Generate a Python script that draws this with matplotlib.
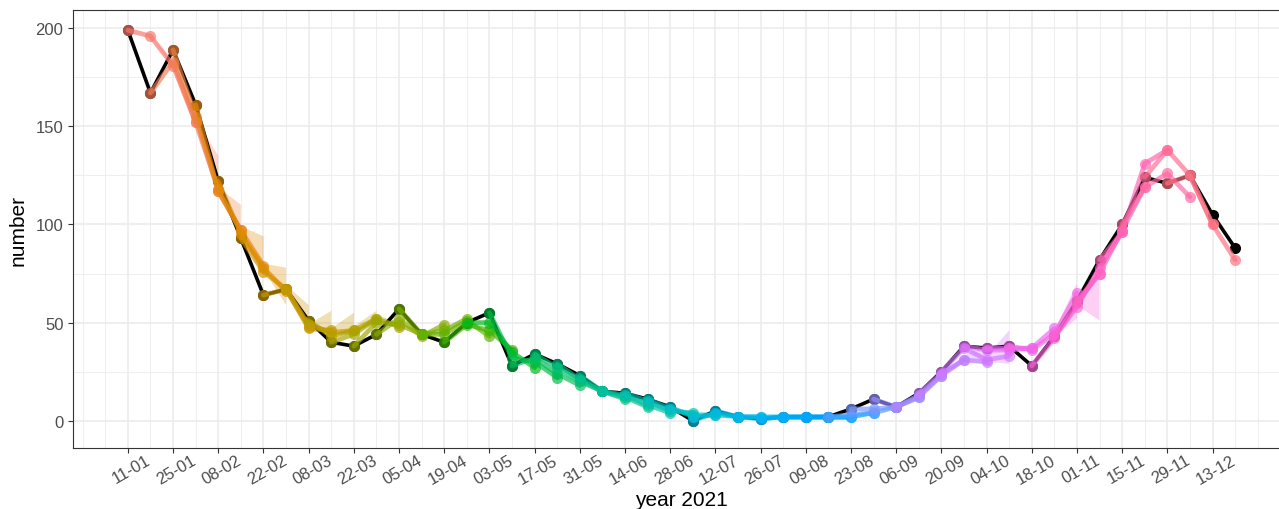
import matplotlib
matplotlib.use("Agg")
import matplotlib.pyplot as plt
import numpy as np

plt.rcParams["font.family"] = ["Liberation Sans", "DejaVu Sans"]

nan = np.nan

# final reported counts per week (11-01 .. 20-12)
final = [199, 167, 189, 161, 122, 93, 64, 67, 51, 40, 38, 44, 57, 44, 40, 50, 55, 28, 34, 29,
         23, 15, 14, 11, 7, 0, 5, 2, 1, 2, 2, 2, 6, 11, 7, 14, 25, 38, 37, 38,
         28, 43, 61, 82, 100, 124, 121, 125, 105, 88]

# nowcast estimates of week j, made j+0 .. j+2 weeks later
# (the oldest point of each nowcast, 3 weeks back, is the final count)
est_lag0 = [nan, nan, nan, 152, 118, 97, 79, 66, 48, 46, 46, 52, 48, 44, 49, 52, 43, 36, 27, 22,
            18, 15, 11, 7, 4, 4, 3, 2, 2, 2, 2, 2, 2, 4, 7, 12, 23, 31, 30, 33,
            37, 47, 65, 75, 96, 119, 138, 114, 100, 82]
est_lag1 = [nan, nan, 181, 152, 117, 97, 78, 67, 47, 45, 46, 52, 49, 43, 46, 51, 46, 35, 30, 24,
            20, 15, 12, 8, 5, 3, 3, 2, 2, 2, 2, 2, 2, 4, 7, 12, 23, 31, 31, 36,
            37, 44, 60, 78, 97, 131, 126, 125, 100, nan]
est_lag2 = [nan, 196, 183, 155, 117, 95, 76, 67, 49, 43, 44, 50, 52, 44, 44, 49, 50, 32, 32, 27,
            21, 15, 13, 10, 6, 2, 4, 2, 1, 2, 2, 2, 3, 6, 7, 13, 24, 37, 36, 37,
            36, 42, 58, 75, 96, 119, 138, 125, nan, nan]

# uncertainty band at the newest week of each nowcast
band_lo = [nan, nan, nan, 150, 116, 93, 74, 59, 46, 44, 44, 50, 47, 43, 48, 51, 42, 35, 27, 22,
           18, 15, 11, 7, 4, 4, 3, 2, 2, 2, 2, 2, 2, 4, 7, 12, 23, 31, 29, 29,
           36, 46, 52, 51, 95, 118, 137, 113, 99, 81]
band_hi = [nan, nan, nan, 160, 135, 110, 94, 78, 59, 56, 55, 56, 50, 45, 50, 53, 44, 37, 28, 23,
           19, 15, 12, 8, 5, 5, 4, 3, 3, 3, 3, 3, 3, 5, 8, 13, 24, 33, 40, 46,
           38, 48, 70, 82, 97, 120, 139, 115, 101, 83]

tick_labels = ["11-01", "25-01", "08-02", "22-02", "08-03", "22-03", "05-04", "19-04",
               "03-05", "17-05", "31-05", "14-06", "28-06", "12-07", "26-07", "09-08",
               "23-08", "06-09", "20-09", "04-10", "18-10", "01-11", "15-11", "29-11", "13-12"]


def hcl_to_rgb(h, c, l):
    # polar CIE-Luv -> sRGB, same as R's hcl()
    xn, yn, zn = 95.047, 100.0, 108.883
    un = 4 * xn / (xn + 15 * yn + 3 * zn)
    vn = 9 * yn / (xn + 15 * yn + 3 * zn)
    hr = np.deg2rad(h)
    U, V = c * np.cos(hr), c * np.sin(hr)
    Y = yn * ((l + 16) / 116) ** 3 if l > 8 else yn * l / 903.3
    u = U / (13 * l) + un
    v = V / (13 * l) + vn
    X = 9 * Y * u / (4 * v)
    Z = -X / 3 - 5 * Y + 3 * Y / v
    X, Y, Z = X / 100, Y / 100, Z / 100
    rgb = [3.240479 * X - 1.537150 * Y - 0.498535 * Z,
           -0.969256 * X + 1.875992 * Y + 0.041556 * Z,
           0.055648 * X - 0.204043 * Y + 1.057311 * Z]
    out = []
    for t in rgb:
        t = 1.055 * t ** (1 / 2.4) - 0.055 if t > 0.00304 else 12.92 * t
        out.append(min(max(t, 0), 1))
    return tuple(out)


n = len(final)
weeks = np.arange(n)
nowcasts = list(range(3, n))
hues = np.linspace(15, 375, len(nowcasts) + 1)[:-1]
colors = {k: hcl_to_rgb(h, 100, 65) for k, h in zip(nowcasts, hues)}

fig = plt.figure(figsize=(12.79, 5.10), dpi=100)
ax = fig.add_axes([72.5 / 1279, 61 / 510, 1218 / 1279, 438 / 510])

# background grid like theme_bw
for w in range(-2, 52):
    if w % 2 == 0 and 0 <= w <= 48:
        ax.axvline(w, color="#EBEBEB", lw=1.1, zorder=0)
    else:
        ax.axvline(w, color="#EBEBEB", lw=0.55, zorder=0)
for yv in [0, 50, 100, 150, 200]:
    ax.axhline(yv, color="#EBEBEB", lw=1.1, zorder=0)
for yv in [25, 75, 125, 175]:
    ax.axhline(yv, color="#EBEBEB", lw=0.55, zorder=0)

# ribbons
for k in nowcasts:
    if band_hi[k] - band_lo[k] < 3:
        continue
    xs = [k - 2, k - 1, k, k, k - 1]
    ys = [est_lag2[k - 2], est_lag1[k - 1] + 2, band_hi[k], band_lo[k], est_lag1[k - 1] - 1]
    ax.fill(xs, ys, color=colors[k], alpha=0.3, lw=0, zorder=1)

# final counts
ax.plot(weeks, final, color="black", lw=2.6, zorder=2)
ax.scatter(weeks, final, s=64, color="black", zorder=3, lw=0)

# nowcast lines
for k in nowcasts:
    xs = [k - 3, k - 2, k - 1, k]
    ys = [final[k - 3], est_lag2[k - 2], est_lag1[k - 1], est_lag0[k]]
    ax.plot(xs, ys, color=colors[k], lw=3.4, alpha=0.68, zorder=4,
            solid_capstyle="round")
    ax.scatter(xs, ys, s=64, color=colors[k], alpha=0.68, zorder=4, lw=0)

ax.set_xlim(-2.45, 51.45)
ax.set_ylim(-13.9, 209.3)
ax.set_xticks(np.arange(0, 49, 2))
ax.set_xticklabels(tick_labels, rotation=30, ha="center", va="top",
                   rotation_mode="anchor")
ax.set_yticks([0, 50, 100, 150, 200])
ax.tick_params(axis="both", length=3.5, width=0.8, color="#333333",
               labelsize=12, labelcolor="#4D4D4D")
ax.tick_params(axis="x", pad=7)
ax.tick_params(axis="y", pad=3)
for sp in ax.spines.values():
    sp.set_color("#333333")
    sp.set_linewidth(0.8)

ax.set_xlabel("year 2021", fontsize=15, labelpad=3)
ax.set_ylabel("number", fontsize=15, labelpad=6)

fig.savefig("out.png", dpi=100)
